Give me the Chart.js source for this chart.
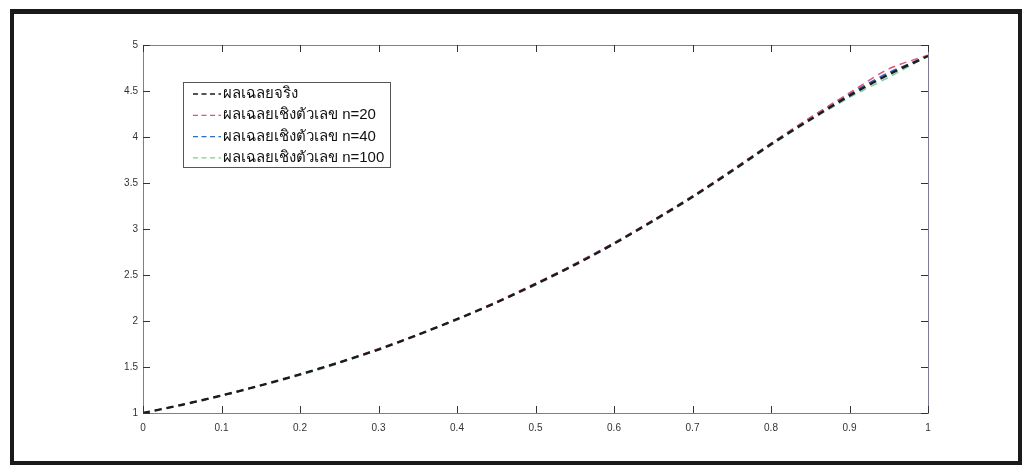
<!DOCTYPE html>
<html>
<head>
<meta charset="utf-8">
<script src="https://cdn.jsdelivr.net/npm/chart.js@4"></script>
<style>
  html, body { margin: 0; padding: 0; background: #fff; }
  #wrap { position: relative; width: 1030px; height: 471px; }
  #frame { position: absolute; left: 10px; top: 9px; width: 1004px; height: 447px;
           border: 4px solid #1a1a1a; border-top-width: 5px; pointer-events: none; }
  canvas { position: absolute; left: 0; top: 0; }
</style>
</head>
<body>
<div id="wrap">
  <canvas id="plot" width="1030" height="471"></canvas>
  <div id="frame"></div>
</div>
<script>
// x positions (step 0.05)
var xs = [0, 0.05, 0.1, 0.15, 0.2, 0.25, 0.3, 0.35, 0.4, 0.45, 0.5,
          0.55, 0.6, 0.65, 0.7, 0.75, 0.8, 0.85, 0.9, 0.95, 1];

var exact = [1.00, 1.09, 1.19, 1.30, 1.42, 1.55, 1.69, 1.85, 2.02, 2.20, 2.40,
             2.61, 2.84, 3.09, 3.35, 3.63, 3.92, 4.19, 4.45, 4.68, 4.88];
var n20   = [1.00, 1.09, 1.19, 1.30, 1.42, 1.55, 1.70, 1.85, 2.02, 2.21, 2.41,
             2.62, 2.85, 3.10, 3.36, 3.64, 3.93, 4.21, 4.48, 4.74, 4.89];
var n40   = [1.00, 1.09, 1.19, 1.30, 1.42, 1.55, 1.69, 1.85, 2.02, 2.20, 2.40,
             2.62, 2.85, 3.09, 3.35, 3.64, 3.93, 4.21, 4.47, 4.70, 4.88];
var n100  = [1.00, 1.09, 1.19, 1.30, 1.41, 1.54, 1.69, 1.85, 2.01, 2.20, 2.39,
             2.61, 2.84, 3.08, 3.34, 3.62, 3.91, 4.18, 4.43, 4.65, 4.88];

var seriesNames = ['ผลเฉลยจริง', 'ผลเฉลยเชิงตัวเลข n=20',
                   'ผลเฉลยเชิงตัวเลข n=40', 'ผลเฉลยเชิงตัวเลข n=100'];
var seriesColors = ['#1c1c1c', '#e2557a', '#2f6bc4', '#7fcf9a'];

var xTickLabels = ['0', '0.1', '0.2', '0.3', '0.4', '0.5', '0.6', '0.7', '0.8', '0.9', '1'];
var yTickLabels = ['1', '1.5', '2', '2.5', '3', '3.5', '4', '4.5', '5'];

function toPoints(ys){
    var pts = [];
    for (var i = 0; i < xs.length; i++){
        pts.push({x: xs[i], y: ys[i]});
    }
    return pts;
}

var allSeries = [exact, n20, n40, n100];
var datasets = [];
for (var s = 0; s < allSeries.length; s++){
    datasets.push({
        label: seriesNames[s],
        data: toPoints(allSeries[s]),
        borderColor: seriesColors[s],
        borderWidth: s == 0 ? 2.4 : 1.5,
        borderDash: [7, 5],
        pointRadius: 0,
        tension: 0.3,
        fill: false
    });
}

// MATLAB style box with inward ticks
var boxTicks = {
    id: 'boxTicks',
    afterDatasetsDraw: function(chart){
        var c = chart.ctx, a = chart.chartArea;
        var xs_ = chart.scales.x, ys_ = chart.scales.y;
        c.save();
        c.strokeStyle = '#7d7d95';
        c.lineWidth = 1;
        c.strokeRect(a.left + 0.5, a.top + 0.5, a.right - a.left, a.bottom - a.top);
        c.strokeStyle = '#333';
        xs_.ticks.forEach(function(t){
            var px = Math.round(xs_.getPixelForValue(t.value)) + 0.5;
            c.beginPath();
            c.moveTo(px, a.bottom); c.lineTo(px, a.bottom - 7);
            c.moveTo(px, a.top); c.lineTo(px, a.top + 7);
            c.stroke();
        });
        ys_.ticks.forEach(function(t){
            var py = Math.round(ys_.getPixelForValue(t.value)) + 0.5;
            c.beginPath();
            c.moveTo(a.left, py); c.lineTo(a.left + 7, py);
            c.moveTo(a.right, py); c.lineTo(a.right - 7, py);
            c.stroke();
        });
        c.restore();
    }
};

// legend box inside plot, upper left
var innerLegend = {
    id: 'innerLegend',
    afterDraw: function(chart){
        var c = chart.ctx;
        var x0 = 183, y0 = 82, w = 207, h = 85;
        c.save();
        c.fillStyle = '#fff';
        c.fillRect(x0, y0, w, h);
        c.strokeStyle = '#555';
        c.lineWidth = 1;
        c.strokeRect(x0 + 0.5, y0 + 0.5, w, h);
        c.font = '15px "Liberation Sans", Arial, sans-serif';
        c.textBaseline = 'middle';
        chart.data.datasets.forEach(function(ds, i){
            var ly = y0 + 12 + i * 21.3;
            c.strokeStyle = ds.borderColor;
            c.lineWidth = i == 0 ? 1.6 : 1.3;
            c.setLineDash([5, 3.5]);
            c.beginPath();
            c.moveTo(x0 + 10, ly); c.lineTo(x0 + 38, ly);
            c.stroke();
            c.setLineDash([]);
            c.fillStyle = '#111';
            c.fillText(ds.label, x0 + 40, ly);
        });
        c.restore();
    }
};

var ctx = document.getElementById('plot');
var chart = new Chart(ctx, {
    type: 'line',
    data: { datasets: datasets },
    plugins: [boxTicks, innerLegend],
    options: {
        responsive: false,
        animation: false,
        layout: { padding: { left: 0, right: 102, top: 45, bottom: 0 } },
        plugins: { legend: { display: false }, tooltip: { enabled: false } },
        scales: {
            x: {
                type: 'linear', min: 0, max: 1,
                grid: { display: false, drawTicks: false },
                border: { display: false },
                afterFit: function(scale){ scale.height = 58; },
                ticks: {
                    stepSize: 0.1, padding: 9, maxRotation: 0,
                    color: '#333',
                    font: { family: '"Liberation Sans", Arial, sans-serif', size: 10 },
                    callback: function(v, i){ return xTickLabels[i]; }
                }
            },
            y: {
                min: 1, max: 5,
                grid: { display: false, drawTicks: false },
                border: { display: false },
                afterFit: function(scale){ scale.width = 143; },
                ticks: {
                    stepSize: 0.5, padding: 5,
                    color: '#333',
                    font: { family: '"Liberation Sans", Arial, sans-serif', size: 10 },
                    callback: function(v, i){ return yTickLabels[i]; }
                }
            }
        }
    }
});
</script>
</body>
</html>
